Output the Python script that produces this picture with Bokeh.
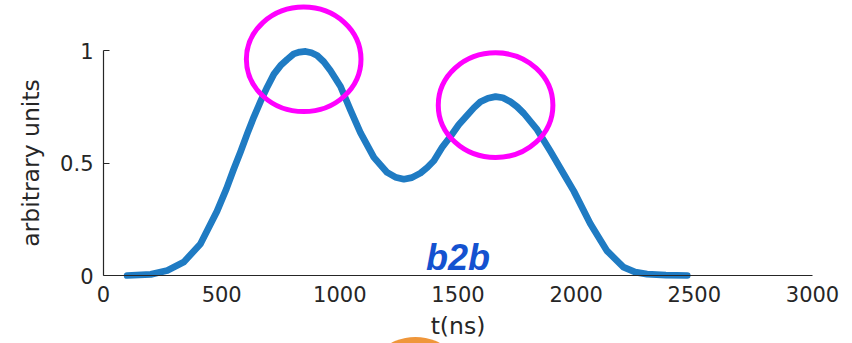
import numpy as np
from bokeh.plotting import figure
from bokeh.models import Range1d, FixedTicker, Label
from bokeh.embed import file_html
from bokeh.resources import INLINE

# ---- data ----
t_ns = [100, 200, 270, 340, 410, 480, 520, 550, 580, 610, 636, 665, 693, 721, 749,
        777, 805, 830, 855, 880, 904, 932, 960, 1003, 1045, 1087, 1144, 1200, 1235,
        1271, 1305, 1341, 1370, 1398, 1433, 1468, 1503, 1539, 1567, 1595, 1627,
        1659, 1690, 1722, 1750, 1779, 1835, 1891, 1948, 1990, 2060, 2130, 2200,
        2250, 2300, 2380, 2470]
amplitude = [0.0, 0.005, 0.022, 0.06, 0.14, 0.285, 0.385, 0.47, 0.55, 0.635, 0.704,
             0.775, 0.838, 0.895, 0.933, 0.96, 0.985, 0.993, 0.996, 0.99, 0.978,
             0.95, 0.911, 0.84, 0.735, 0.635, 0.525, 0.458, 0.437, 0.428, 0.435,
             0.455, 0.48, 0.51, 0.57, 0.618, 0.67, 0.712, 0.745, 0.772, 0.788,
             0.795, 0.79, 0.772, 0.75, 0.72, 0.648, 0.552, 0.45, 0.375, 0.23, 0.11,
             0.037, 0.015, 0.006, 0.002, 0.0]
x_ticks = [0, 500, 1000, 1500, 2000, 2500, 3000]
y_ticks = [0, 0.5, 1]
y_tick_labels = ["0", "0.5", "1"]
x_label = "t(ns)"
y_label = "arbitrary units"
annotation_text = "b2b"

AXIS_COL = "#262626"
LINE_COL = "#1f7bc3"

W, H = 852, 343
# pixel geometry of the axes box
X0_PX, PX_PER_NS = 103, 709 / 3000
Y0_PX, PX_PER_UNIT = 275, 225

p = figure(width=W, height=H, output_backend="svg", toolbar_location=None,
           x_range=Range1d(-X0_PX / PX_PER_NS, (W - X0_PX) / PX_PER_NS),
           y_range=Range1d(-(H - Y0_PX) / PX_PER_UNIT, Y0_PX / PX_PER_UNIT),
           min_border=0, min_border_left=0, min_border_right=0,
           min_border_top=0, min_border_bottom=0)
p.outline_line_color = None
p.xgrid.visible = False
p.ygrid.visible = False
p.background_fill_color = "white"

# axes (crossing at the origin, like the MATLAB box corner)
p.xaxis.fixed_location = 0
p.yaxis.fixed_location = 0
p.xaxis.bounds = (0, 3000)
p.yaxis.bounds = (0, 1)
p.xaxis.ticker = FixedTicker(ticks=x_ticks)
p.yaxis.ticker = FixedTicker(ticks=y_ticks)
p.yaxis.major_label_overrides = {tv: lab for tv, lab in zip(y_ticks, y_tick_labels)}
for ax in (p.xaxis, p.yaxis):
    ax.axis_line_color = AXIS_COL
    ax.axis_line_width = 1.2
    ax.major_tick_line_color = AXIS_COL
    ax.minor_tick_line_color = None
    ax.major_label_text_color = AXIS_COL
    ax.major_label_text_font = "DejaVu Sans"
    ax.major_label_text_font_size = "21px"
    ax.axis_label_text_color = AXIS_COL
    ax.axis_label_text_font = "DejaVu Sans"
    ax.axis_label_text_font_size = "23.5px"
    ax.axis_label_text_font_style = "normal"
p.xaxis.major_tick_in = 0
p.xaxis.major_tick_out = 0
p.yaxis.major_tick_in = 6
p.yaxis.major_tick_out = 0
p.xaxis.major_label_standoff = 10
p.yaxis.major_label_standoff = 10
p.xaxis.axis_label_standoff = 7
p.yaxis.axis_label_standoff = 12
p.xaxis.axis_label = x_label
p.yaxis.axis_label = y_label

# curve
p.line(t_ns, amplitude, line_color=LINE_COL, line_width=6.7,
       line_join="round", line_cap="round")

# highlight ellipses around the two peaks
t_arr = np.array(t_ns, dtype=float)
a_arr = np.array(amplitude, dtype=float)
first = t_arr < 1300
i1 = int(np.argmax(np.where(first, a_arr, -1)))
i2 = int(np.argmax(np.where(~first, a_arr, -1)))
peak_x = [t_arr[i1] - 8, t_arr[i2]]
peak_y = [a_arr[i1] - 0.035, a_arr[i2] - 0.038]
p.ellipse(x=peak_x, y=peak_y, width=485, height=0.465,
          fill_color=None, line_color="#ff00ff", line_width=5)

# "b2b" annotation
p.add_layout(Label(x=1500, y=0.078, text=annotation_text, text_align="center",
                   text_baseline="middle", text_font="Liberation Sans",
                   text_font_style="bold italic", text_font_size="36px",
                   text_color="#1452d0"))

# partially visible orange disc at the bottom edge (decoration from the slide)
p.scatter(x=[1320], y=[-0.504], size=104, marker="circle",
          fill_color="#ef963a", line_color=None)

open("out.html", "w").write(file_html(p, INLINE))
